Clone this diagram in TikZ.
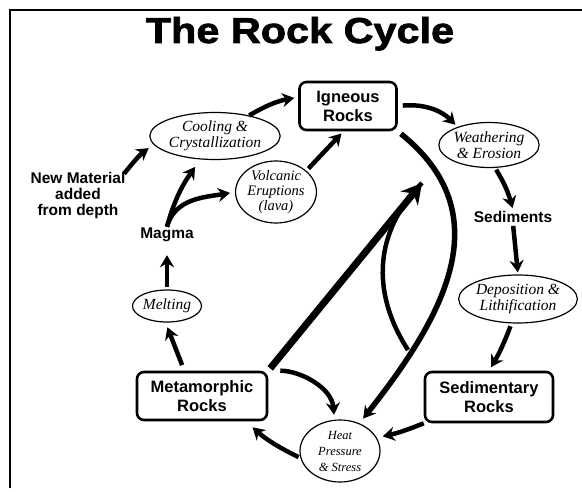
\documentclass[tikz,border=0pt]{standalone}
\usepackage{fontspec}
\usetikzlibrary{shapes.geometric,arrows.meta}
\newfontfamily\titlefont[BoldFeatures={FakeBold=2,FakeStretch=1.15}]{Liberation Sans}
\newfontfamily\labelfont{Liberation Sans}
\newfontfamily\handfont{Liberation Serif}
\tikzset{
  rock/.style={draw,line width=2.6pt,rounded corners=7pt,align=center,inner sep=0pt,
    font=\labelfont\bfseries\fontsize{16.5}{19}\selectfont},
  stage/.style={draw,ellipse,line width=1.2pt,align=center,inner sep=0pt,
    font=\handfont\itshape\fontsize{15.5}{16}\selectfont},
  word/.style={align=center,inner sep=1pt,
    font=\labelfont\bfseries\fontsize{15.5}{16}\selectfont},
  flow/.style={line width=4.5pt,-{Stealth[length=12pt,width=14pt]}},
  bigflow/.style={line width=7pt,-{Stealth[length=20pt,width=22pt]}},
}
\begin{document}
\begin{tikzpicture}[x=1pt,y=1pt]
  \useasboundingbox (0,0) rectangle (582,491);
  \draw[line width=1.2pt] (10,3) -- (10,481) -- (582,481);
  \node[anchor=base,inner sep=0pt] (title) at (300,448)
    {\titlefont\bfseries\fontsize{36}{40}\selectfont The Rock Cycle};

  \draw
    (348,385) node[rock,minimum width=97pt,minimum height=48pt] (ign){Igneous\\Rocks}
    (489,94) node[rock,minimum width=128pt,minimum height=50pt] (sedrock){Sedimentary\\Rocks}
    (202,95) node[rock,minimum width=130pt,minimum height=48pt] (meta){Metamorphic\\Rocks}
    (489,346) node[stage,minimum width=94pt,minimum height=45pt] (weath){Weathering\\\& Erosion}
    (518,192) node[stage,minimum width=103pt,minimum height=48pt] (depo){Deposition \&\\Lithification}
    (340,40) node[stage,minimum width=80pt,minimum height=62pt,
      font=\handfont\itshape\fontsize{12.5}{16}\selectfont] (heat){Heat\\Pressure\\\& Stress}
    (167,185) node[stage,minimum width=69pt,minimum height=32pt] (melt){Melting}
    (215,355) node[stage,minimum width=114pt,minimum height=47pt] (cool){Cooling \&\\Crystallization}
    (276,299) node[stage,minimum width=73pt,minimum height=62pt,
      font=\handfont\itshape\fontsize{14.5}{15}\selectfont] (volc){Volcanic\\Eruptions\\(lava)}
    (513,274) node[word] (sed){Sediments}
    (167,256) node[word] (magma){Magma}
    (78,296) node[word] (newmat){New Material\\added\\from depth};

  \coordinate (lift) at (422,308);
  \coordinate (loop) at (408,141);

  \begin{scope}[flow]
    \draw[shorten >=4pt] (cool.31) to[bend left=10] (ign.170);
    \draw[shorten <=5pt,shorten >=3pt] (ign.east) to[out=5,in=135] (weath.150);
    \draw[shorten <=2pt,shorten >=2pt] (weath.-75) to[bend left=8] (sed.north);
    \draw[shorten <=2pt,shorten >=2pt] (sed.south) -- (depo.north);
    \draw[shorten <=3pt,shorten >=4pt] (depo.-105) to[bend left=5] (sedrock.north);
    \draw[shorten <=0pt,shorten >=6pt] (sedrock.south west) to[bend left=5] (heat.20);
    \draw[shorten <=2pt,shorten >=9pt] (heat.190) to[bend left=8] (meta.-30);
    \draw[shorten <=12pt,shorten >=5pt] (meta.north east) to[out=0,in=95] (heat.100);
    \draw[shorten <=6pt,shorten >=5pt] (meta.125) -- (melt.-95);
    \draw[shorten <=2pt,shorten >=12pt] (melt.north) -- (magma.south);
    \draw[shorten >=9pt] (magma.north) to[out=75,in=235] (cool.-122);
    \draw[shorten >=5pt] (magma.north) to[out=75,in=190] (volc.west);
    \draw[shorten <=-4pt,shorten >=6pt] (newmat.north east) to[bend left=8] (cool.188);
    \draw[shorten <=3pt,shorten >=3pt] (volc.35) -- (ign.-100);
    \draw[line width=5.5pt,shorten <=4pt,shorten >=6pt]
      (ign.south east) .. controls +(102,-82) and +(87,110) .. (heat.55);
  \end{scope}
  \draw[bigflow,shorten <=3pt] (meta.north east) -- (lift);
  \draw[line width=4.5pt] (loop) .. controls (370,200) and (375,260) .. (lift);
\end{tikzpicture}
\end{document}
